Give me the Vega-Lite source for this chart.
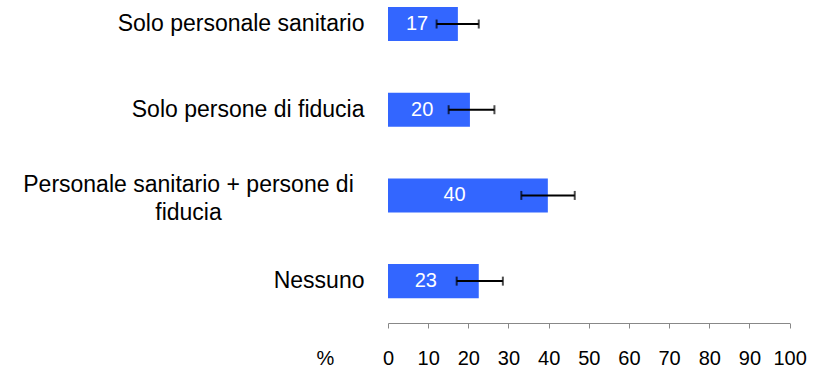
{
  "$schema": "https://vega.github.io/schema/vega-lite/v6.json",
  "width": 401.6,
  "height": 323,
  "autosize": {"type": "none"},
  "padding": {"left": 388, "top": 0, "right": 24.4, "bottom": 45},
  "config": {
    "view": {"stroke": null},
    "font": "Liberation Sans",
    "text": {"font": "Liberation Sans"}
  },
  "data": {
    "values": [
      {"cat": "Solo personale sanitario", "pct": 17.4, "lo": 12.1, "hi": 22.6},
      {"cat": "Solo persone di fiducia", "pct": 20.4, "lo": 15.1, "hi": 26.5},
      {"cat": "Personale sanitario + persone di fiducia", "pct": 39.8, "lo": 33.2, "hi": 46.5},
      {"cat": "Nessuno", "pct": 22.6, "lo": 17.1, "hi": 28.6}
    ]
  },
  "encoding": {
    "y": {
      "field": "cat",
      "type": "nominal",
      "sort": null,
      "scale": {"paddingInner": 0.603, "paddingOuter": 0.186, "align": 0.22},
      "axis": {
        "title": null,
        "domain": false,
        "ticks": false,
        "labelFont": "Liberation Sans",
        "labelFontSize": 23,
        "labelColor": "black",
        "labelLimit": 0,
        "labelLineHeight": 28,
        "labelExpr": "datum.value == 'Personale sanitario + persone di fiducia' ? ['Personale sanitario + persone di', 'fiducia'] : datum.value",
        "labelAlign": {"condition": {"test": "datum.value == 'Personale sanitario + persone di fiducia'", "value": "center"}, "value": "right"},
        "labelPadding": {"condition": {"test": "datum.value == 'Personale sanitario + persone di fiducia'", "value": 200}, "value": 24},
        "labelOffset": {"condition": {"test": "datum.value == 'Personale sanitario + persone di fiducia'", "value": -10}, "value": 0}
      }
    }
  },
  "layer": [
    {
      "layer": [
        {
          "mark": {"type": "bar", "color": "#3366FF"},
          "encoding": {
            "x": {
              "field": "pct",
              "type": "quantitative",
              "scale": {"domain": [0, 100], "nice": false},
              "axis": {
                "title": "%",
                "values": [0, 10, 20, 30, 40, 50, 60, 70, 80, 90, 100],
                "grid": false,
                "domainColor": "#888888",
                "tickColor": "#888888",
                "tickSize": 5,
                "labelFont": "Liberation Sans",
                "labelFontSize": 20,
                "labelColor": "black",
                "labelPadding": 20,
                "labelFlush": false,
                "labelOverlap": false,
                "titleFont": "Liberation Sans",
                "titleFontSize": 20,
                "titleFontWeight": "normal",
                "titleColor": "black",
                "titleX": -63,
                "titleY": 35,
                "titleAlign": "center",
                "titleBaseline": "middle"
              }
            }
          }
        },
        {
          "mark": {
            "type": "errorbar",
            "color": "black",
            "ticks": {"size": 9, "thickness": 2, "color": "black"},
            "rule": {"strokeWidth": 2, "color": "black"}
          },
          "encoding": {
            "x": {"field": "lo", "type": "quantitative", "title": "%"},
            "x2": {"field": "hi"}
          }
        }
      ]
    },
    {
      "mark": {"type": "text", "color": "white", "fontSize": 20, "font": "Liberation Sans", "align": "center", "baseline": "middle"},
      "encoding": {
        "x": {"field": "pct", "type": "quantitative", "scale": {"domain": [0, 240], "nice": false}, "axis": null},
        "text": {"field": "pct", "type": "quantitative", "format": ".0f"}
      }
    }
  ],
  "resolve": {"scale": {"x": "independent"}}
}
